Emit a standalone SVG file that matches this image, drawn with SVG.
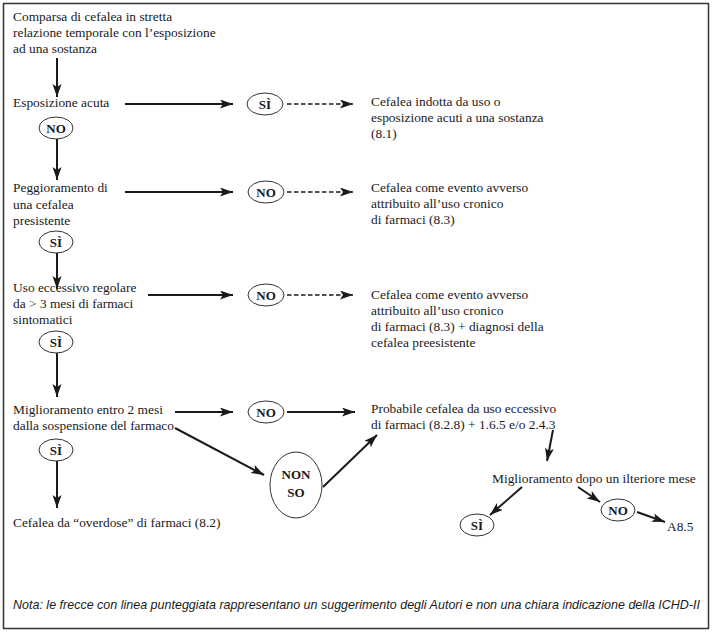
<svg xmlns="http://www.w3.org/2000/svg" width="712" height="633" viewBox="0 0 712 633">
<defs>
<marker id="ah" markerUnits="userSpaceOnUse" markerWidth="14" markerHeight="10" refX="13" refY="4.5" orient="auto">
<path d="M0,0 L13,4.5 L0,9 L3,4.5 z" fill="#1a1a1a"/>
</marker>
<style>
.t{font-family:"Liberation Serif","Times New Roman",serif;font-size:13.4px;fill:#1a1a1a}
.b{font-family:"Liberation Serif","Times New Roman",serif;font-size:13px;font-weight:bold;fill:#1a1a1a;text-anchor:middle}
.e{fill:#fff;stroke:#333;stroke-width:1}
.a{stroke:#1a1a1a;stroke-width:2;fill:none;marker-end:url(#ah)}
.d{stroke:#1a1a1a;stroke-width:1.6;fill:none;stroke-dasharray:4.5 2.5;marker-end:url(#ah)}
.n{font-family:"Liberation Sans",Arial,sans-serif;font-style:italic;font-size:12.2px;fill:#1a1a1a}
</style>
</defs>
<rect x="3.5" y="3.5" width="705" height="625" fill="#fff" stroke="#333" stroke-width="1.5"/>
<g id="connectors">
<line class="a" x1="57" y1="58" x2="57" y2="97"/>
<line class="a" x1="57" y1="139" x2="57" y2="180"/>
<line class="a" x1="57" y1="253" x2="57" y2="289"/>
<line class="a" x1="57" y1="353" x2="57" y2="397"/>
<line class="a" x1="57" y1="461" x2="57" y2="508"/>
<line class="a" x1="125" y1="104" x2="233" y2="104"/>
<line class="d" x1="287" y1="104" x2="353" y2="104"/>
<line class="a" x1="125" y1="192" x2="233" y2="192"/>
<line class="d" x1="287" y1="192" x2="353" y2="192"/>
<line class="a" x1="148" y1="295" x2="233" y2="295"/>
<line class="d" x1="287" y1="295" x2="353" y2="295"/>
<line class="a" x1="175" y1="412" x2="233" y2="412"/>
<line class="a" x1="287" y1="412" x2="355" y2="412"/>
<line class="a" x1="175" y1="428" x2="264" y2="475"/>
<line class="a" x1="323" y1="487" x2="377" y2="435"/>
<line class="a" x1="553" y1="430" x2="547" y2="461"/>
<line class="a" x1="522" y1="487" x2="490" y2="515"/>
<line class="a" x1="578" y1="487" x2="600" y2="502"/>
<line class="a" x1="637" y1="512" x2="665" y2="522"/>
</g>
<g id="n1"><text class="t" x="13" y="21">Comparsa di cefalea in stretta</text><text class="t" x="13" y="37">relazione temporale con l’esposizione</text><text class="t" x="13" y="53">ad una sostanza</text></g>
<g id="n2"><text class="t" x="13" y="107">Esposizione acuta</text></g>
<g id="n2si"><ellipse class="e" cx="265" cy="104" rx="18" ry="11"/><text class="b" x="265" y="108.5">SÌ</text></g>
<g id="n3"><text class="t" x="371" y="106">Cefalea indotta da uso o</text><text class="t" x="371" y="122">esposizione acuti a una sostanza</text><text class="t" x="371" y="138">(8.1)</text></g>
<g id="n2no"><ellipse class="e" cx="56" cy="128" rx="17" ry="11"/><text class="b" x="56" y="132.5">NO</text></g>
<g id="n4"><text class="t" x="13" y="192">Peggioramento di</text><text class="t" x="13" y="209">una cefalea</text><text class="t" x="13" y="225">presistente</text></g>
<g id="n4no"><ellipse class="e" cx="266" cy="192" rx="18" ry="11"/><text class="b" x="266" y="196.5">NO</text></g>
<g id="n5"><text class="t" x="371" y="192">Cefalea come evento avverso</text><text class="t" x="371" y="208">attribuito all’uso cronico</text><text class="t" x="371" y="224">di farmaci (8.3)</text></g>
<g id="n4si"><ellipse class="e" cx="56" cy="242" rx="17" ry="11"/><text class="b" x="56" y="246.5">SÌ</text></g>
<g id="n6"><text class="t" x="13" y="292">Uso eccessivo regolare</text><text class="t" x="13" y="308">da &gt; 3 mesi di farmaci</text><text class="t" x="13" y="324">sintomatici</text></g>
<g id="n6no"><ellipse class="e" cx="266" cy="295" rx="18" ry="11"/><text class="b" x="266" y="299.5">NO</text></g>
<g id="n7"><text class="t" x="371" y="299">Cefalea come evento avverso</text><text class="t" x="371" y="315">attribuito all’uso cronico</text><text class="t" x="371" y="331">di farmaci (8.3) + diagnosi della</text><text class="t" x="371" y="347">cefalea preesistente</text></g>
<g id="n6si"><ellipse class="e" cx="56" cy="342" rx="17" ry="11"/><text class="b" x="56" y="346.5">SÌ</text></g>
<g id="n8"><text class="t" x="13" y="414">Miglioramento entro 2 mesi</text><text class="t" x="13" y="430">dalla sospensione del farmaco</text></g>
<g id="n8no"><ellipse class="e" cx="266" cy="412" rx="18" ry="11"/><text class="b" x="266" y="416.5">NO</text></g>
<g id="n9"><text class="t" x="371" y="413">Probabile cefalea da uso eccessivo</text><text class="t" x="371" y="429">di farmaci (8.2.8) + 1.6.5 e/o 2.4.3</text></g>
<g id="n8si"><ellipse class="e" cx="56" cy="450" rx="17" ry="11"/><text class="b" x="56" y="454.5">SÌ</text></g>
<g id="nonso"><ellipse class="e" cx="296" cy="485" rx="26" ry="33"/><text class="b" x="296" y="479">NON</text><text class="b" x="296" y="497">SO</text></g>
<g id="n10"><text class="t" x="13" y="527">Cefalea da “overdose” di farmaci (8.2)</text></g>
<g id="n11"><text class="t" x="492" y="483">Miglioramento dopo un ilteriore mese</text></g>
<g id="n11si"><ellipse class="e" cx="477" cy="525" rx="17" ry="11"/><text class="b" x="477" y="529.5">SÌ</text></g>
<g id="n11no"><ellipse class="e" cx="618" cy="510" rx="17" ry="11"/><text class="b" x="618" y="514.5">NO</text></g>
<g id="n12"><text class="t" x="667" y="531">A8.5</text></g>
<g id="nota"><text class="n" x="13" y="609" textLength="687" lengthAdjust="spacingAndGlyphs">Nota: le frecce con linea punteggiata rappresentano un suggerimento degli Autori e non una chiara indicazione della ICHD-II</text></g>
</svg>
